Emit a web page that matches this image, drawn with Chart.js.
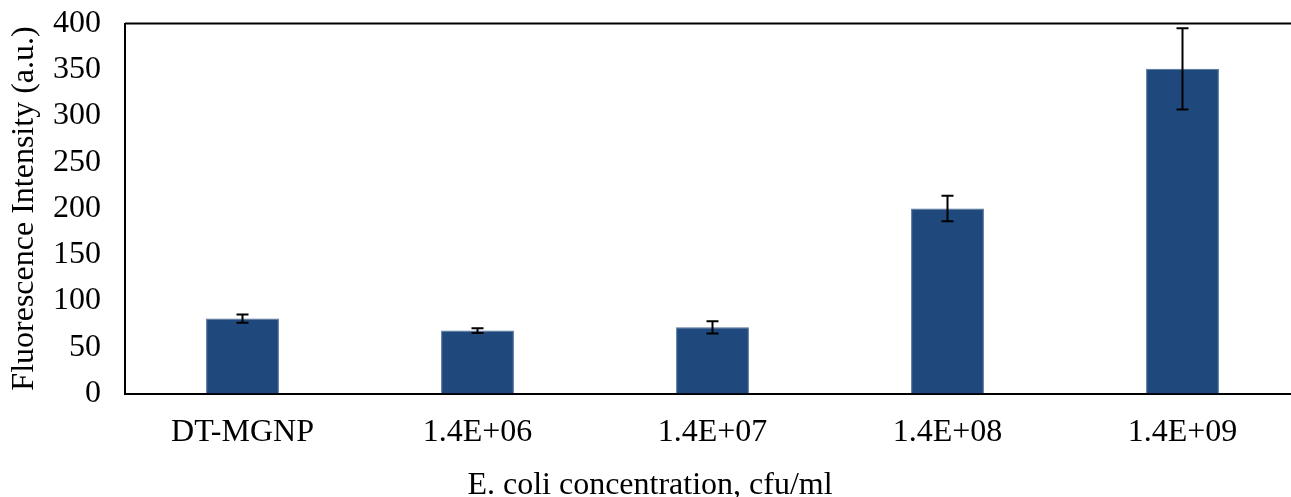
<!DOCTYPE html>
<html>
<head>
<meta charset="utf-8">
<script src="https://cdn.jsdelivr.net/npm/chart.js@4.4.1/dist/chart.umd.min.js"></script>
<style>
  html, body { margin: 0; padding: 0; background: #fff; overflow: hidden; height: 497px; }
  #wrap { width: 1305px; height: 505px; }
</style>
</head>
<body>
<div id="wrap"><canvas id="c"></canvas></div>
<script>
const categories = ['DT-MGNP', '1.4E+06', '1.4E+07', '1.4E+08', '1.4E+09'];
const intensity = [81, 68, 71.5, 200, 351];
const errors = [4.5, 2.5, 6.5, 13.7, 44];
const yTicks = [0, 50, 100, 150, 200, 250, 300, 350, 400];

const serif = "'Liberation Serif', 'Times New Roman', serif";

// error bars + top frame line
const errorBars = {
  id: 'errorBars',
  afterDatasetsDraw(chart) {
    const ctx = chart.ctx;
    const x = chart.scales.x, y = chart.scales.y;
    ctx.save();
    ctx.strokeStyle = '#000';
    ctx.lineWidth = 2;
    intensity.forEach((v, i) => {
      const px = x.getPixelForValue(i);
      const top = y.getPixelForValue(v + errors[i]);
      const bot = y.getPixelForValue(v - errors[i]);
      ctx.beginPath();
      ctx.moveTo(px, top); ctx.lineTo(px, bot);
      ctx.moveTo(px - 6, top); ctx.lineTo(px + 6, top);
      ctx.moveTo(px - 6, bot); ctx.lineTo(px + 6, bot);
      ctx.stroke();
    });
    const a = chart.chartArea;
    ctx.beginPath();
    ctx.moveTo(a.left, a.top); ctx.lineTo(a.right, a.top);
    ctx.stroke();
    ctx.restore();
  }
};

new Chart(document.getElementById('c').getContext('2d'), {
  type: 'bar',
  data: {
    labels: categories,
    datasets: [{
      data: intensity,
      backgroundColor: '#1F497D',
      borderColor: '#4F6F98',
      borderWidth: 1,
      barPercentage: 1,
      categoryPercentage: 0.31
    }]
  },
  options: {
    responsive: true,
    maintainAspectRatio: false,
    animation: false,
    layout: { padding: { top: 0, right: 5, left: 0, bottom: 0 } },
    plugins: {
      legend: { display: false },
      tooltip: { enabled: false },
      // x-axis title, centred on the whole figure like the original
      title: {
        display: true, position: 'bottom', text: 'E. coli concentration, cfu/ml',
        color: '#000', font: { family: serif, size: 32, weight: 'normal' },
        padding: { top: 0, bottom: 0 }
      }
    },
    scales: {
      x: {
        grid: { display: false, drawTicks: false },
        border: { color: '#000', width: 2 },
        ticks: { color: '#000', font: { family: serif, size: 32 }, padding: 20 },
        afterFit(s) { s.height = 73.1; s.paddingLeft = 0; s.paddingRight = 0; }
      },
      y: {
        min: 0, max: 400,
        afterBuildTicks(s) { s.ticks = yTicks.map(v => ({ value: v })); },
        grid: { display: false, drawTicks: false },
        border: { color: '#000', width: 2 },
        ticks: { color: '#000', font: { family: serif, size: 32 }, padding: 24 },
        title: {
          display: true, text: 'Fluorescence Intensity (a.u.)',
          color: '#000', font: { family: serif, size: 32 }, padding: { top: 5, bottom: 0 }
        },
        afterFit(s) { s.width = 125; s.paddingTop = 23.5; s.paddingBottom = 0; }
      }
    }
  },
  plugins: [errorBars]
});
</script>
</body>
</html>
